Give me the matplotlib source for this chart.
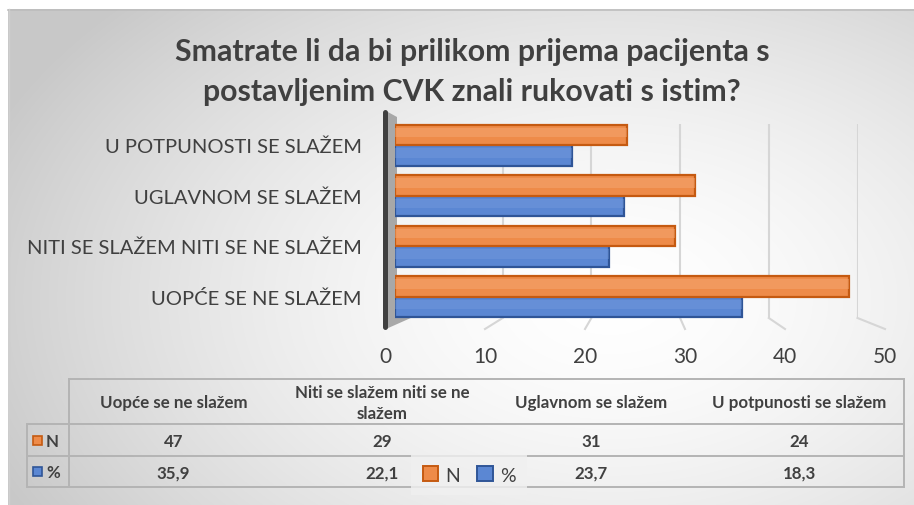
import numpy as np
import matplotlib
matplotlib.use("Agg")
import matplotlib.pyplot as plt
from matplotlib.patches import Rectangle, Polygon

# ---------------- data ----------------
categories = ["UOPĆE SE NE SLAŽEM", "NITI SE SLAŽEM NITI SE NE SLAŽEM",
              "UGLAVNOM SE SLAŽEM", "U POTPUNOSTI SE SLAŽEM"]
table_headers = ["Uopće se ne slažem", "Niti se slažem niti se ne\nslažem",
                 "Uglavnom se slažem", "U potpunosti se slažem"]
n_values = [47, 29, 31, 24]
pct_values = [35.9, 22.1, 23.7, 18.3]
pct_labels = ["35,9", "22,1", "23,7", "18,3"]
series_names = ["N", "%"]
x_ticks = [0, 10, 20, 30, 40, 50]
title_lines = ["Smatrate li da bi prilikom prijema pacijenta s",
               "postavljenim CVK znali rukovati s istim?"]

# ---------------- style ----------------
W, H = 914, 506
FONT = "Lato"
TXT = "#404040"
OR_FACE, OR_EDGE, OR_HI = "#EE8B49", "#C55A11", "#F6AC78"
BL_FACE, BL_EDGE, BL_HI = "#5B87D3", "#2F5597", "#7BA0E0"

plt.rcParams["font.family"] = [FONT, "DejaVu Sans"]

fig = plt.figure(figsize=(W / 100, H / 100), dpi=100)

def fig_rect(x0, y0, x1, y1):
    """pixel box (top-left origin) -> figure fraction rect"""
    return [x0 / W, (H - y1) / H, (x1 - x0) / W, (y1 - y0) / H]

# background axes in pixel coordinates
bg = fig.add_axes([0, 0, 1, 1])
bg.set_zorder(0)
bg.set_xlim(0, W)
bg.set_ylim(H, 0)
bg.axis("off")

# chart area with radial gradient
yy, xx = np.mgrid[0:H, 0:W]
d = np.sqrt(((xx - 610) / 560.0) ** 2 + ((yy - 300) / 360.0) ** 2)
v = np.clip(1.0 - 0.16 * d ** 1.6, 0.785, 1.0)
img = np.dstack([v, v, v])
img[:10, :, :] = 1.0
img[:, :8, :] = 1.0
bg.imshow(img, extent=(0, W, H, 0), interpolation="bilinear", zorder=0)
bg.plot([8, W], [10.5, 10.5], color="#bdbdbd", lw=1.2, zorder=1)
bg.plot([8.5, 8.5], [10, H], color="#cfcfcf", lw=1.0, zorder=1)

# ---------------- axes geometry ----------------
BAR_X0, PX_PER_UNIT = 395, 9.67
XMAX = 50

# back wall grid axes (perspective: smaller scale)
GRID_X0, GRID_PPU = 414, 8.87
axg = fig.add_axes(fig_rect(GRID_X0, 125, GRID_X0 + XMAX * GRID_PPU, 319))
axg.set_zorder(1)
axg.set_xlim(0, XMAX)
axg.set_ylim(0, 1)
axg.axis("off")
for t in x_ticks[1:]:
    axg.axvline(t, color="#d6d6d6", lw=1.5)

# front tick axes
TICK_X0, TICK_PPU = 385, 10.0
axt = fig.add_axes(fig_rect(TICK_X0, 320, TICK_X0 + XMAX * TICK_PPU, 330))
axt.set_zorder(1.5)
axt.set_xlim(0, XMAX)
axt.patch.set_alpha(0)
for s in axt.spines.values():
    s.set_visible(False)
axt.set_yticks([])
axt.set_xticks(x_ticks)
axt.tick_params(axis="x", length=0, pad=12, labelsize=15, labelcolor=TXT)

# bar axes
ax = fig.add_axes(fig_rect(BAR_X0, 121, BAR_X0 + XMAX * PX_PER_UNIT, 323))
ax.set_zorder(3)
ax.set_xlim(0, XMAX)
ax.set_ylim(-0.5, len(categories) - 0.5)
ax.patch.set_alpha(0)
for s in ax.spines.values():
    s.set_visible(False)
ax.set_xticks([])

# overlay for the 3D wall (above grid, below bars)
wall = fig.add_axes([0, 0, 1, 1])
wall.set_zorder(2)
wall.set_xlim(0, W)
wall.set_ylim(H, 0)
wall.axis("off")

# perspective floor segments joining back grid and front ticks
fig.canvas.draw()
for t in x_ticks[1:]:
    xb = axg.transData.transform((t, 0))[0]
    xf = axt.transData.transform((t, 0))[0]
    wall.plot([xb, xf], [319, 330], color="#d6d6d6", lw=1.5, zorder=2)

# left wall of the 3D chart
wall.add_patch(Polygon([(386, 112), (397, 118), (397, 316), (413, 318), (386, 330)],
                       closed=True, facecolor="#a8a8a8", edgecolor="none", zorder=3))
wall.plot([385, 385], [113, 328], color="#404040", lw=3.6, solid_capstyle="round", zorder=4)

# ---------------- bars ----------------
ypos = np.arange(len(categories))
bh = 0.41
off = 0.205
ax.barh(ypos + off, n_values, height=bh, color=OR_FACE, edgecolor=OR_EDGE,
        linewidth=1.6, zorder=3, label=series_names[0])
ax.barh(ypos + off + bh * 0.12, n_values, height=bh * 0.45, color=OR_HI,
        edgecolor="none", alpha=0.45, zorder=4)
ax.barh(ypos - off, pct_values, height=bh, color=BL_FACE, edgecolor=BL_EDGE,
        linewidth=1.6, zorder=2, label=series_names[1])
ax.barh(ypos - off + bh * 0.12, pct_values, height=bh * 0.45, color=BL_HI,
        edgecolor="none", alpha=0.35, zorder=2.5)

ax.set_yticks(ypos)
ax.set_yticklabels(categories)
ax.tick_params(axis="y", length=0, pad=24, labelsize=14.5, labelcolor=TXT)

# ---------------- title ----------------
fig.text(472 / W, 1 - 52 / H, title_lines[0], ha="center", va="center",
         fontsize=21.8, fontweight="bold", color=TXT)
fig.text(472 / W, 1 - 92 / H, title_lines[1], ha="center", va="center",
         fontsize=21.8, fontweight="bold", color=TXT)

# ---------------- data table ----------------
TL, TX0, TX1 = 27, 69, 904
TY = [380, 425, 457, 488]
LC = "#b4b4b4"
LW = 1.4
bg.plot([TX0, TX1], [TY[0], TY[0]], color=LC, lw=LW, zorder=5)
for yv in TY[1:]:
    bg.plot([TL, TX1], [yv, yv], color=LC, lw=LW, zorder=5)
bg.plot([TL, TL], [TY[1], TY[3]], color=LC, lw=LW, zorder=5)
bg.plot([TX0, TX0], [TY[0], TY[3]], color=LC, lw=LW, zorder=5)
bg.plot([TX1, TX1], [TY[0], TY[3]], color=LC, lw=LW, zorder=5)

TFS = 12.2
colw = (TX1 - TX0) / len(table_headers)
for i, (hdr, nv, pl) in enumerate(zip(table_headers, n_values, pct_labels)):
    cx = TX0 + colw * (i + 0.5)
    bg.text(cx, (TY[0] + TY[1]) / 2 + 1, hdr, ha="center", va="center",
            fontsize=TFS, fontweight="bold", color=TXT, linespacing=1.45, zorder=6)
    bg.text(cx, (TY[1] + TY[2]) / 2 + 1, str(nv), ha="center", va="center",
            fontsize=TFS, fontweight="bold", color=TXT, zorder=6)
    bg.text(cx, (TY[2] + TY[3]) / 2 + 1, pl, ha="center", va="center",
            fontsize=TFS, fontweight="bold", color=TXT, zorder=6)

for r, (name, fc, ec) in enumerate([(series_names[0], OR_FACE, OR_EDGE),
                                    (series_names[1], BL_FACE, BL_EDGE)]):
    yc = (TY[r + 1] + TY[r + 2]) / 2
    bg.add_patch(Rectangle((33, yc - 4.5), 9, 9, facecolor=fc, edgecolor=ec,
                           lw=1.2, zorder=6))
    bg.text(46, yc + 1, name, ha="left", va="center", fontsize=TFS,
            fontweight="bold", color=TXT, zorder=6)

# ---------------- legend ----------------
handles = [Rectangle((0, 0), 1, 1, facecolor=OR_FACE, edgecolor=OR_EDGE, lw=1.4),
           Rectangle((0, 0), 1, 1, facecolor=BL_FACE, edgecolor=BL_EDGE, lw=1.4)]
leg = fig.legend(handles, series_names, loc="center", ncol=2,
                 bbox_to_anchor=(469 / W, 1 - 476 / H), frameon=True,
                 fontsize=14, handlelength=0.8, handleheight=0.8,
                 handletextpad=0.35, columnspacing=0.9, borderpad=0.3,
                 labelcolor=TXT)
leg.get_frame().set_facecolor("#f0f0f0")
leg.get_frame().set_edgecolor("none")
leg.get_frame().set_alpha(0.8)
leg.get_frame().set_boxstyle("square")
leg.set_zorder(10)

fig.savefig("out.png", dpi=100)
